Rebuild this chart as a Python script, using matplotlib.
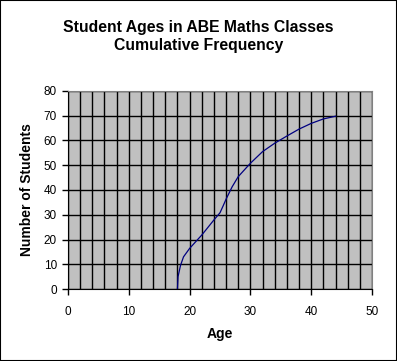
import matplotlib
matplotlib.use("Agg")
from matplotlib import pyplot as plt
from matplotlib.patches import Rectangle

# cumulative frequency
ages = [18, 18.1, 18.5, 19, 20, 22, 24, 25, 25.5, 26, 27, 28, 30, 32, 34, 36, 38, 40, 42, 44]
cum_freq = [0, 5, 9.5, 13, 16.4, 21.8, 27.9, 30.8, 33.5, 36.3, 41.3, 45.4, 50.8, 55.5, 58.9, 61.8, 64.6, 66.9, 68.7, 69.8]

x_ticks = [0, 10, 20, 30, 40, 50]
y_ticks = [0, 10, 20, 30, 40, 50, 60, 70, 80]

plt.rcParams['font.family'] = ['Liberation Sans', 'DejaVu Sans']


def main():
    fig = plt.figure(figsize=(3.97, 3.61), dpi=100)
    fig.patches.append(Rectangle((0, 0), 1, 1, transform=fig.transFigure,
                                 fill=False, edgecolor='black', linewidth=1.5))

    ax = fig.add_axes([0.1713, 0.1994, 0.7657, 0.5486])
    ax.set_facecolor('#C0C0C0')
    ax.plot(ages, cum_freq, color='#000080', linewidth=0.9)

    ax.set_xlim(0, 50)
    ax.set_ylim(0, 80)
    ax.set_xticks(x_ticks)
    ax.set_yticks(y_ticks)
    ax.set_xticks(range(0, 51, 2), minor=True)
    ax.grid(True, which='major', color='black', linewidth=1)
    ax.grid(True, which='minor', axis='x', color='black', linewidth=1)
    ax.tick_params(which='minor', length=0)
    ax.tick_params(which='major', direction='out', length=4, width=1,
                   labelsize=8.5, pad=4, colors='black')
    ax.tick_params(axis='x', pad=8)
    ax.set_axisbelow(True)

    for side in ['top', 'right']:
        ax.spines[side].set_color('#808080')
    for side in ['left', 'bottom']:
        ax.spines[side].set_color('black')

    ax.set_xlabel('Age', fontsize=10, fontweight='bold', labelpad=7)
    ax.set_ylabel('Number of Students', fontsize=10, fontweight='bold', labelpad=7)

    fig.text(0.5, 0.945, 'Student Ages in ABE Maths Classes\nCumulative Frequency',
             ha='center', va='top', fontsize=11.3, linespacing=1.25,
             fontweight='bold')

    fig.savefig('out.png', dpi=100)


if __name__ == '__main__':
    main()
